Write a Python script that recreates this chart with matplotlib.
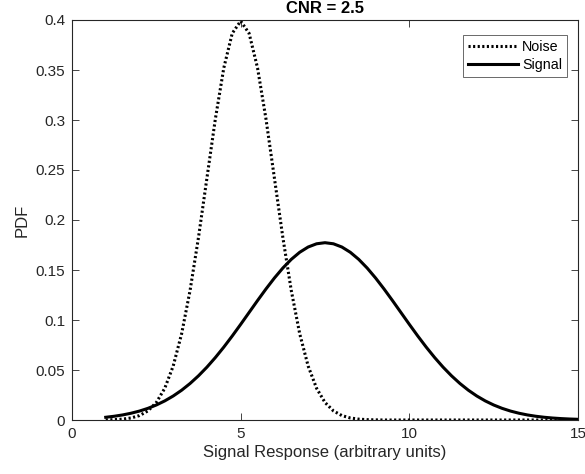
import numpy as np
import matplotlib
matplotlib.use("Agg")
import matplotlib.pyplot as plt

plt.rcParams['font.family'] = ['Liberation Sans', 'DejaVu Sans']

# sample positions (arbitrary units), step 0.25 from 1 to 15
x_vals = np.linspace(1, 15, 57)

noise_pdf = [0.00013, 0.00035, 0.00087, 0.00203, 0.00443, 0.00909, 0.01753, 0.03174,
             0.05399, 0.08628, 0.12952, 0.18265, 0.24197, 0.30114, 0.35207, 0.38667,
             0.39894, 0.38667, 0.35207, 0.30114, 0.24197, 0.18265, 0.12952, 0.08628,
             0.05399, 0.03174, 0.01753, 0.00909, 0.00443, 0.00203, 0.00087, 0.00035,
             0.00013] + [0.0] * 24

signal_pdf = [0.00273, 0.00374, 0.00506, 0.00677, 0.00893, 0.01165, 0.01501, 0.01910,
              0.02400, 0.02978, 0.03651, 0.04421, 0.05287, 0.06247, 0.07289, 0.08401,
              0.09564, 0.10754, 0.11944, 0.13102, 0.14197, 0.15195, 0.16063, 0.16772,
              0.17298, 0.17621, 0.17730, 0.17621, 0.17298, 0.16772, 0.16063, 0.15195,
              0.14197, 0.13102, 0.11944, 0.10754, 0.09564, 0.08401, 0.07289, 0.06247,
              0.05287, 0.04421, 0.03651, 0.02978, 0.02400, 0.01910, 0.01501, 0.01165,
              0.00893, 0.00677, 0.00506, 0.00374, 0.00273, 0.00197, 0.00140, 0.00099,
              0.00069]

x_ticks = [0, 5, 10, 15]
y_ticks = [0, 0.05, 0.1, 0.15, 0.2, 0.25, 0.3, 0.35, 0.4]
y_ticklabels = ['0', '0.05', '0.1', '0.15', '0.2', '0.25', '0.3', '0.35', '0.4']

fig = plt.figure(figsize=(5.85, 4.74), dpi=100)
ax = fig.add_axes([72/585, 1 - 420/474, (578-72)/585, (420-20)/474])

ax.plot(x_vals, noise_pdf, color='black', lw=2.2, linestyle=(0, (0.7, 0.8)),
        dash_capstyle='butt', label='Noise')
ax.plot(x_vals, signal_pdf, color='black', lw=2.2, label='Signal')

ax.set_xlim(0, 15)
ax.set_ylim(0, 0.4)
ax.set_xticks(x_ticks)
ax.set_xticklabels([str(t) for t in x_ticks])
ax.set_yticks(y_ticks)
ax.set_yticklabels(y_ticklabels)

c = '#262626'
ax.tick_params(direction='in', length=5, width=0.6, colors=c, labelsize=11,
               top=True, right=True, labelcolor=c, pad=5)
for s in ax.spines.values():
    s.set_linewidth(0.8)
    s.set_color(c)

ax.set_xlabel('Signal Response (arbitrary units)', fontsize=12, color=c, labelpad=3)
ax.set_ylabel('PDF', fontsize=12, color=c, labelpad=4)
ax.set_title('CNR = 2.5', fontsize=12, fontweight='bold', color='black', pad=5)

leg = ax.legend(loc='upper right', fontsize=10.3, frameon=True, fancybox=False,
                edgecolor=c, handlelength=3.5, handletextpad=0.25,
                borderpad=0.35, labelspacing=0.3, borderaxespad=0,
                bbox_to_anchor=(567/585, 1 - 35/474), bbox_transform=fig.transFigure)
leg.get_frame().set_linewidth(0.6)

fig.savefig('out.png', dpi=100)
